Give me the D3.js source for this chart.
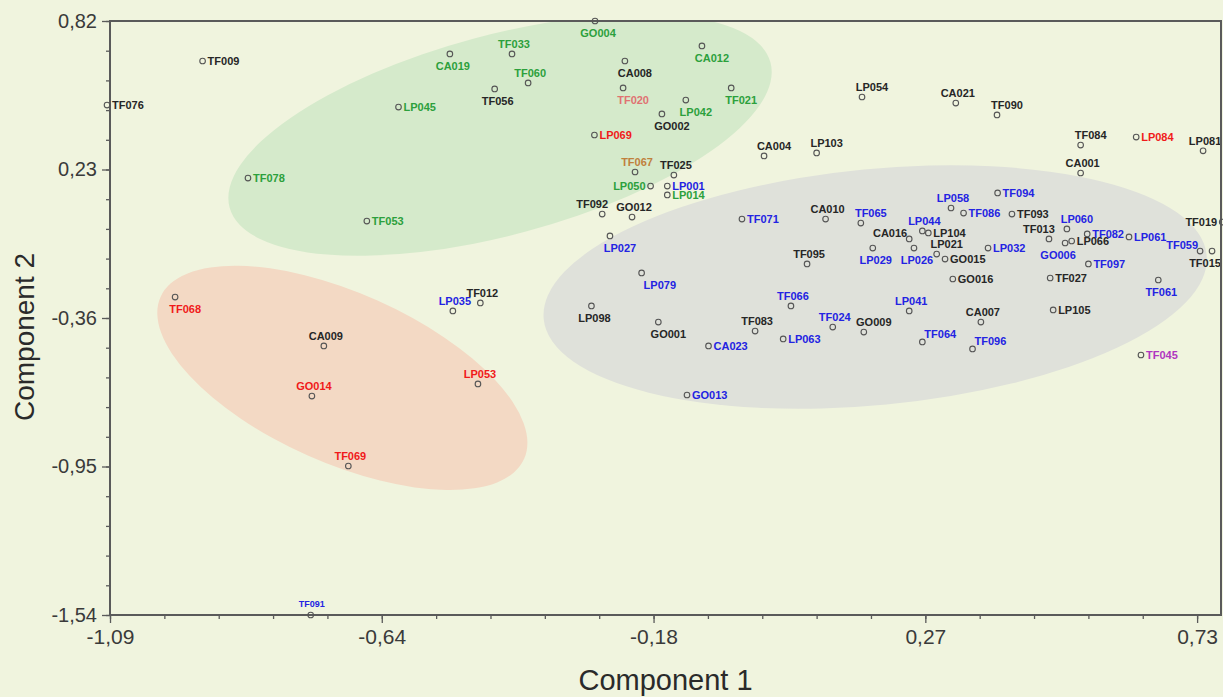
<!DOCTYPE html>
<html>
<head>
<meta charset="utf-8">
<script src="https://cdn.jsdelivr.net/npm/d3@7/dist/d3.min.js"></script>
<style>
  body { margin: 0; background: #f0f4de; }
  svg { display: block; }
</style>
</head>
<body>
<div id="chart"></div>
<script>
// samples (score plot, component 1 vs component 2)
const sampleIds = [
  "TF009","TF076","TF078","LP045","CA019","TF033","TF060","TF056","GO004","CA008",
  "TF020","CA012","TF021","LP042","GO002","LP069","TF067","TF025","LP050","LP001",
  "LP014","TF092","GO012","TF053","LP027","TF071","CA004","LP103","LP054","CA021",
  "TF090","TF084","LP084","LP081","CA001","TF094","LP058","TF086","TF093","CA010",
  "TF065","LP044","CA016","LP104","LP021","LP029","LP026","GO015","LP032","TF013",
  "LP060","TF082","LP061","GO006","LP066","TF097","TF019","TF059","TF015","GO016",
  "TF027","TF061","TF095","LP079","TF066","LP098","GO001","TF083","TF024","LP063",
  "CA023","GO009","LP041","CA007","LP105","TF064","TF096","TF045","GO013","TF068",
  "CA009","GO014","TF069","LP035","TF012","LP053","TF091"
];
const comp1 = [
  -0.935,-1.095,-0.859,-0.607,-0.521,-0.417,-0.390,-0.446,-0.278,-0.228,
  -0.231,-0.099,-0.050,-0.126,-0.166,-0.279,-0.211,-0.146,-0.185,-0.157,
  -0.157,-0.266,-0.216,-0.660,-0.253,-0.032,0.005,0.093,0.169,0.326,
  0.395,0.535,0.628,0.740,0.535,0.396,0.318,0.339,0.420,0.108,
  0.167,0.270,0.248,0.280,0.294,0.187,0.256,0.308,0.380,0.482,
  0.512,0.546,0.616,0.509,0.520,0.548,0.772,0.735,0.755,0.321,
  0.484,0.665,0.077,-0.200,0.050,-0.284,-0.172,-0.010,0.120,0.037,
  -0.088,0.172,0.248,0.368,0.489,0.270,0.354,0.636,-0.124,-0.981,
  -0.732,-0.752,-0.691,-0.516,-0.470,-0.474,-0.754
];
const comp2 = [
  0.661,0.486,0.196,0.478,0.689,0.689,0.574,0.550,0.820,0.661,
  0.554,0.721,0.554,0.506,0.451,0.367,0.220,0.208,0.164,0.164,
  0.129,0.053,0.041,0.025,-0.034,0.033,0.284,0.296,0.518,0.494,
  0.447,0.327,0.359,0.304,0.216,0.137,0.077,0.057,0.053,0.033,
  0.017,-0.014,-0.046,-0.022,-0.106,-0.082,-0.082,-0.126,-0.082,-0.046,
  -0.006,-0.026,-0.038,-0.062,-0.054,-0.145,0.021,-0.094,-0.094,-0.205,
  -0.201,-0.209,-0.145,-0.181,-0.312,-0.312,-0.376,-0.412,-0.396,-0.443,
  -0.471,-0.416,-0.332,-0.376,-0.328,-0.455,-0.483,-0.507,-0.666,-0.277,
  -0.471,-0.670,-0.948,-0.332,-0.300,-0.622,-1.540
];
// label colour group of each sample
const labelGroup = [
  "k","k","g","g","g","g","g","k","g","k",
  "p","g","g","g","k","r","o","k","g","b",
  "g","k","k","g","b","b","k","k","k","k",
  "k","k","r","k","k","b","b","b","k","k",
  "b","b","k","k","k","b","b","k","b","k",
  "b","b","b","b","k","b","k","b","k","k",
  "k","b","k","b","b","k","k","k","b","b",
  "b","k","b","k","k","b","b","m","b","r",
  "k","r","r","b","k","r","b"
];
// where each label sits around its point
const labelSide = [
  "r","r","r","r","b","t","t","b","b","br",
  "br","br","br","br","br","r","t","t","l","r",
  "r","tl","t","r","br","r","tr","tr","tr","t",
  "tr","tr","r","t","t","r","t","r","r","t",
  "tr","t","ul","r","tr","b","b","r","r","tl",
  "tr","r","r","bl","r","r","l","ul","bl","r",
  "r","b","t","bs","t","b","br","t","t","r",
  "r","tr","t","t","r","ur","ur","r","r","br",
  "t","t","t","t","t","t","ts"
];

const xTickValues = [-1.09, -0.635, -0.18, 0.275, 0.73];
const xTickLabels = ["-1,09", "-0,64", "-0,18", "0,27", "0,73"];
const yTickValues = [0.82, 0.23, -0.36, -0.95, -1.54];
const yTickLabels = ["0,82", "0,23", "-0,36", "-0,95", "-1,54"];

// cluster regions, centres in component units
const clusterCx = [-0.437, -0.701, 0.191];
const clusterCy = [0.367, -0.598, -0.237];

const groupColor = { k: "#262626", g: "#2ca03c", b: "#2323e2", r: "#f01a1a",
                     p: "#e07272", o: "#c0803c", m: "#b035c0" };
const sideOffset = {
  r: [5, 4, "start"], l: [-5, 4, "end"],
  t: [2, -6, "middle"], tr: [10, -6, "middle"], tl: [-10, -6, "middle"],
  b: [3, 16, "middle"], br: [10, 16, "middle"], bl: [-7, 16, "middle"],
  bs: [2, 16, "start"], ur: [2, -4, "start"], ul: [-2, -2, "end"],
  ts: [1, -8, "middle"]
};
const clusterShape = [
  { rx: 280, ry: 100, rot: -15, fill: "#d5eacb" },
  { rx: 199, ry: 85, rot: 24, fill: "#f3d9c4" },
  { rx: 333, ry: 118, rot: -5.5, fill: "#dfe1da" }
];

const W = 1223, H = 697;
const margin = { top: 21, right: 2, bottom: 82, left: 110 };

const svg = d3.select("#chart").append("svg")
  .attr("width", W).attr("height", H);

svg.append("rect").attr("width", W).attr("height", H).attr("fill", "#f0f4de");

const x = d3.scaleLinear()
  .domain([-1.09, 0.77])
  .range([margin.left, W - margin.right]);
const y = d3.scaleLinear()
  .domain([-1.54, 0.82])
  .range([H - margin.bottom, margin.top]);

svg.append("clipPath").attr("id", "plotClip")
  .append("rect")
  .attr("x", margin.left).attr("y", margin.top)
  .attr("width", W - margin.left - margin.right)
  .attr("height", H - margin.top - margin.bottom);

const plot = svg.append("g").attr("clip-path", "url(#plotClip)");

plot.selectAll("ellipse")
  .data(clusterShape)
  .enter()
  .append("ellipse")
  .attr("transform", (d, i) => "translate(" + x(clusterCx[i]) + "," + y(clusterCy[i]) + ") rotate(" + d.rot + ")")
  .attr("rx", d => d.rx)
  .attr("ry", d => d.ry)
  .attr("fill", d => d.fill);

// minor ticks
const xStep = (xTickValues[1] - xTickValues[0]) / 5;
const yStep = (yTickValues[0] - yTickValues[1]) / 5;
const xMinor = d3.range(0, 21).map(i => -1.09 + i * xStep);
const yMinor = d3.range(0, 21).map(i => -1.54 + i * yStep);

const axisStroke = "#5a5a5a";

const gxMinor = svg.append("g")
  .attr("transform", "translate(0," + (H - margin.bottom) + ")")
  .call(d3.axisBottom(x).tickValues(xMinor).tickSize(4).tickFormat(""));
const gyMinor = svg.append("g")
  .attr("transform", "translate(" + margin.left + ",0)")
  .call(d3.axisLeft(y).tickValues(yMinor).tickSize(4).tickFormat(""));

const gx = svg.append("g")
  .attr("transform", "translate(0," + (H - margin.bottom) + ")")
  .call(d3.axisBottom(x).tickValues(xTickValues).tickSize(8).tickPadding(6)
    .tickFormat((d, i) => xTickLabels[i]));
const gy = svg.append("g")
  .attr("transform", "translate(" + margin.left + ",0)")
  .call(d3.axisLeft(y).tickValues(yTickValues).tickSize(8).tickPadding(5)
    .tickFormat((d, i) => yTickLabels[i]));

[gx, gy, gxMinor, gyMinor].forEach(g => {
  g.select(".domain").remove();
  g.selectAll("line").attr("stroke", axisStroke).attr("stroke-width", 1.3);
});
gx.selectAll("text")
  .style("font-family", "'Liberation Sans Narrow', 'Arial Narrow', sans-serif")
  .style("font-size", "21px").attr("fill", "#3a3a3a");
gy.selectAll("text")
  .style("font-family", "'Liberation Sans', Arial, sans-serif")
  .style("font-size", "20px").attr("fill", "#3a3a3a");

// frame
svg.append("rect")
  .attr("x", margin.left).attr("y", margin.top)
  .attr("width", W - margin.left - margin.right)
  .attr("height", H - margin.top - margin.bottom)
  .attr("fill", "none")
  .attr("stroke", axisStroke)
  .attr("stroke-width", 2);

// points (not clipped, they sit on the frame at the edges)
svg.append("g").selectAll("circle.pt")
  .data(sampleIds)
  .enter()
  .append("circle")
  .attr("class", "pt")
  .attr("cx", (d, i) => x(comp1[i]))
  .attr("cy", (d, i) => y(comp2[i]))
  .attr("r", 2.8)
  .attr("fill", "none")
  .attr("stroke", "#555")
  .attr("stroke-width", 1.1);

plot.selectAll("text.lab")
  .data(sampleIds)
  .enter()
  .append("text")
  .attr("class", "lab")
  .attr("x", (d, i) => x(comp1[i]) + sideOffset[labelSide[i]][0])
  .attr("y", (d, i) => y(comp2[i]) + sideOffset[labelSide[i]][1])
  .attr("text-anchor", (d, i) => sideOffset[labelSide[i]][2])
  .attr("fill", (d, i) => groupColor[labelGroup[i]])
  .style("font-family", "'Liberation Sans', Arial, sans-serif")
  .style("font-weight", "bold")
  .style("font-size", (d, i) => labelSide[i] === "ts" ? "9px" : "11px")
  .text(d => d);

// axis titles
svg.append("text")
  .attr("x", (margin.left + W - margin.right) / 2)
  .attr("y", 690)
  .attr("text-anchor", "middle")
  .style("font-family", "'Liberation Sans Narrow', 'Arial Narrow', sans-serif")
  .style("font-size", "29px")
  .attr("fill", "#2a2a2a")
  .text("Component  1");

svg.append("text")
  .attr("transform", "translate(34,337) rotate(-90)")
  .attr("text-anchor", "middle")
  .style("font-family", "'Liberation Sans Narrow', 'Arial Narrow', sans-serif")
  .style("font-size", "28px")
  .attr("fill", "#2a2a2a")
  .text("Component 2");
</script>
</body>
</html>
